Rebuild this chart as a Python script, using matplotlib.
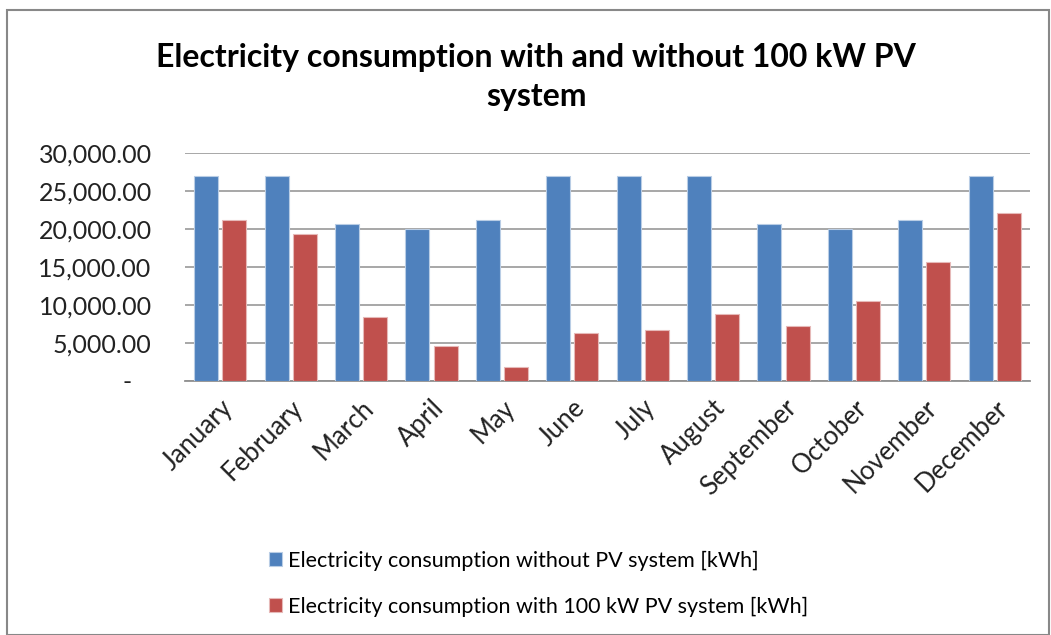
import numpy as np
import matplotlib.pyplot as plt
from matplotlib.ticker import FuncFormatter

months = ["January", "February", "March", "April", "May", "June", "July",
          "August", "September", "October", "November", "December"]
without_pv = [27000, 27000, 20600, 20000, 21190, 27000, 27000, 27000,
              20600, 20000, 21190, 27000]
with_pv = [21190, 19340, 8370, 4670, 1890, 6340, 6740, 8770,
           7270, 10570, 15600, 22120]

plt.rcParams['font.family'] = ['Lato', 'DejaVu Sans']

fig = plt.figure(figsize=(10.51, 6.35), dpi=100)
ax = fig.add_axes([185 / 1051, 1 - 381 / 635, (1030 - 185) / 1051, (381 - 153) / 635])

x = np.arange(len(months))
w = 0.34
ax.bar(x - 0.2, without_pv, w, color='#4F81BD', edgecolor='#B9CDE5', linewidth=0.8,
       label='Electricity consumption without PV system [kWh]', zorder=3)
ax.bar(x + 0.2, with_pv, w, color='#C0504D', edgecolor='#E6B9B8', linewidth=0.8,
       label='Electricity consumption with 100 kW PV system [kWh]', zorder=3)

ax.set_xlim(-0.5, len(months) - 0.5)
ax.set_ylim(0, 30000)
ax.set_yticks(np.arange(0, 30001, 5000))
ax.yaxis.set_major_formatter(FuncFormatter(lambda v, p: '-   ' if v == 0 else f'{v:,.2f}'))
ax.grid(axis='y', color='#A0A0A0', linewidth=1.3, zorder=0)
ax.set_xticks(x)
ax.set_xticklabels(months, rotation=45, ha='right', rotation_mode='anchor')
ax.tick_params(axis='both', length=0, colors='#222222')
ax.tick_params(axis='y', pad=24, labelsize=18)
ax.tick_params(axis='x', pad=10, labelsize=18.5)
for s in ['top', 'right', 'left']:
    ax.spines[s].set_visible(False)
ax.spines['bottom'].set_color('#909090')
ax.spines['bottom'].set_linewidth(1.3)

fig.text(0.51, 1 - 77 / 635, 'Electricity consumption with and without 100 kW PV\nsystem',
         ha='center', va='center', fontsize=23, fontweight='bold', linespacing=1.45)

fig.legend(loc='upper left', bbox_to_anchor=(260 / 1051, 1 - 542 / 635), frameon=False,
           fontsize=15.5, handlelength=0.6, handleheight=0.6, handletextpad=0.3,
           labelspacing=1.2, borderaxespad=0)

# frame around the chart
fig.patches.append(plt.Rectangle((0.007, 0.0), 0.991, 0.985, transform=fig.transFigure,
                                 fill=False, edgecolor='#888888', linewidth=1.5))

plt.savefig('out.png', dpi=100)
